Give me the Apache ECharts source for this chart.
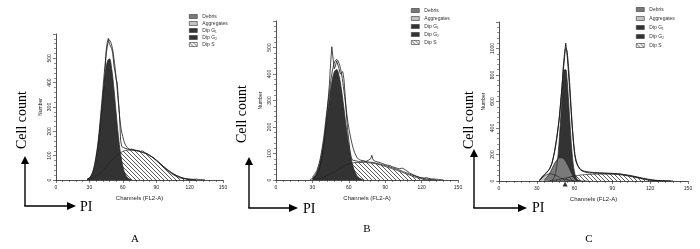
<!DOCTYPE html>
<html><head><meta charset="utf-8">
<script src="https://cdn.jsdelivr.net/npm/echarts@6/dist/echarts.min.js"></script>
<style>html,body{margin:0;padding:0;background:#fff}#c{width:700px;height:249px}</style>
</head><body><div id="c"></div>
<script>
// ---------- data (channel, count) ----------
const xTicks = [0, 30, 60, 90, 120, 150];
const panelLetters = ['A', 'B', 'C'];
const legendNames = ['Debris', 'Aggregates', 'Dip G\u2081', 'Dip G\u2082', 'Dip S'];

// Panel A
const aG1 = [[28,3],[30,7],[32,18],[34,40],[36,80],[38,143],[40,229],[42,328],[44,422],[46,485],[48,498],[50,458],[52,377],[54,278],[56,183],[58,108],[60,57],[62,27],[64,11],[66,4],[68,1]];
const aS = [[30,2],[34,10],[38,22],[42,38],[46,60],[50,80],[54,98],[58,112],[62,121],[66,123],[70,122],[74,119],[78,113],[82,106],[86,96],[90,82],[94,66],[98,50],[102,36],[106,24],[110,15],[114,8],[118,4],[122,1],[126,0]];
const aData = [[28,3],[30,8],[32,20],[34,45],[36,90],[38,150],[40,240],[42,340],[44,440],[45,530],[46,565],[47,582],[48,560],[49,555],[50,540],[51,520],[52,470],[53,445],[54,415],[55,400],[56,330],[57,270],[58,165],[59,138],[60,132],[62,130],[64,128],[66,125],[68,127],[70,124],[72,122],[74,120],[76,118],[78,119],[80,112],[82,108],[84,100],[86,95],[88,88],[90,80],[92,72],[94,64],[96,55],[98,48],[100,40],[102,32],[104,25],[106,20],[108,15],[110,11],[112,8],[114,6],[116,5],[118,4],[120,4],[122,3],[124,3],[126,4],[128,2],[130,2],[132,1],[134,0]];
const aFit = [[28,3],[30,9],[32,22],[34,50],[36,98],[38,165],[40,262],[42,366],[44,470],[46,545],[48,575],[50,555],[52,500],[54,420],[56,320],[58,225],[60,178],[62,148],[64,134],[66,127],[70,122],[74,119],[78,113],[82,106],[86,96],[90,82],[94,66],[98,50],[102,36],[106,24],[110,15],[114,8],[118,4],[122,1],[126,0]];

// Panel B
const bG1 = [[30,8],[32,16],[34,33],[36,62],[38,105],[40,164],[42,235],[44,307],[46,369],[48,408],[50,417],[52,392],[54,340],[56,270],[58,196],[60,130],[62,80],[64,44],[66,22],[68,10],[70,4],[72,1]];
const bS = [[32,2],[36,6],[40,12],[44,20],[48,30],[52,42],[56,53],[60,61],[64,65],[68,66],[72,66],[76,65],[80,63],[84,59],[88,54],[92,48],[96,42],[100,36],[104,29],[108,22],[112,15],[116,9],[120,4],[124,1],[128,0]];
const bData = [[28,2],[30,5],[32,10],[34,22],[36,45],[38,90],[40,160],[42,250],[44,360],[45,440],[46,503],[47,460],[48,420],[49,430],[50,450],[51,445],[52,420],[53,400],[54,395],[55,409],[56,380],[57,320],[58,250],[59,190],[60,150],[61,110],[62,85],[63,75],[64,78],[66,72],[68,70],[70,68],[72,72],[74,70],[76,74],[78,80],[79,93],[80,76],[82,70],[84,68],[86,65],[88,62],[90,58],[92,56],[94,54],[96,50],[98,47],[100,44],[102,42],[104,45],[105,48],[106,40],[108,34],[110,27],[112,22],[114,18],[116,14],[118,10],[120,8],[122,7],[124,9],[126,6],[128,4],[130,4],[132,3],[134,2],[136,1],[138,0]];
const bFit = [[30,11],[34,40],[38,120],[42,262],[44,330],[46,400],[48,440],[50,455],[52,440],[54,400],[56,335],[58,262],[60,197],[62,150],[64,114],[66,92],[68,79],[72,72],[76,68],[80,66],[84,62],[88,57],[92,52],[96,46],[100,40],[104,33],[108,26],[112,19],[116,13],[120,8],[124,4],[128,2],[132,0]];

// Panel C
const cAggr = [[32,5],[34,22],[36,38],[38,48],[40,54],[42,52],[44,46],[46,38],[48,28],[50,18],[54,8],[60,2],[70,0]];
const cDebris = [[36,10],[38,28],[40,55],[42,92],[44,130],[46,160],[48,175],[50,175],[52,160],[54,130],[56,92],[58,50],[60,20],[62,6],[64,1]];
const cG1 = [[42,5],[44,31],[46,122],[48,336],[50,638],[51,767],[52,840],[53,840],[54,767],[55,638],[56,485],[58,212],[60,64],[62,14],[64,2]];
const cS = [[40,2],[44,6],[48,12],[52,20],[56,30],[60,38],[64,44],[68,48],[72,50],[76,52],[80,52],[84,52],[88,51],[92,50],[96,47],[100,42],[104,35],[108,27],[112,19],[116,11],[120,5],[124,2],[128,0]];
const cData = [[32,3],[34,30],[36,50],[38,68],[40,88],[42,130],[44,220],[46,340],[48,480],[50,700],[51,860],[52,960],[53,1040],[54,960],[55,840],[56,700],[57,560],[58,420],[59,300],[60,200],[61,150],[62,125],[63,108],[64,90],[66,75],[68,68],[70,64],[72,60],[74,62],[76,58],[78,60],[80,57],[82,58],[84,56],[86,58],[88,55],[90,56],[92,55],[94,54],[96,52],[98,48],[100,45],[102,42],[104,38],[106,35],[108,30],[110,26],[112,22],[114,18],[116,14],[118,10],[120,7],[122,5],[124,4],[126,3],[128,4],[130,2],[132,2],[134,1],[136,1],[138,0]];
const cFit = [[32,2],[34,22],[36,45],[38,65],[40,90],[42,135],[44,215],[46,330],[48,500],[50,720],[52,930],[53,1000],[54,980],[56,750],[58,440],[60,220],[62,130],[64,96],[66,80],[70,70],[76,64],[84,60],[92,56],[100,48],[108,34],[116,18],[124,6],[132,1],[136,0]];
const cMarker = [[52.5,0]];

// ---------- styling ----------
function hatchCanvas(){
  const c=document.createElement('canvas'); c.width=4; c.height=4;
  const g=c.getContext('2d'); g.strokeStyle='#333'; g.lineWidth=0.8;
  g.beginPath(); g.moveTo(0,0); g.lineTo(4,4); g.moveTo(-1,3); g.lineTo(1,5); g.moveTo(3,-1); g.lineTo(5,1); g.stroke();
  return c;
}
const hatch = {image: hatchCanvas(), repeat: 'repeat'};
const C_G1 = '#333333', C_DEB = '#7a7a7a', C_AGG = '#c4c4c4';

const grids = [
  {left:56, top:34, width:167, height:146},
  {left:276, top:21, width:182, height:159},
  {left:499, top:22, width:189, height:159}
];
const yMax = [600, 600, 1200], yInt = [100, 100, 200];

function xAx(i){return {gridIndex:i,type:'value',min:0,max:150,interval:30,
  axisLine:{lineStyle:{color:'#222',width:0.8}},axisTick:{length:3,lineStyle:{color:'#222',width:0.6}},
  minorTick:{show:true,splitNumber:5,length:2,lineStyle:{color:'#222',width:0.5}},
  splitLine:{show:false},axisLabel:{fontSize:5,color:'#222',margin:5,fontFamily:'Liberation Sans',
    formatter:v=>xTicks.includes(v)?String(v):''},
  name:'Channels (FL2-A)',nameLocation:'middle',nameGap:11,nameTextStyle:{fontSize:6,color:'#222',fontFamily:'Liberation Sans'}};}
function yAx(i){return {gridIndex:i,type:'value',min:0,max:yMax[i],interval:yInt[i],
  axisLine:{show:true,lineStyle:{color:'#222',width:0.8}},axisTick:{show:true,length:3,lineStyle:{color:'#222',width:0.6}},
  minorTick:{show:true,splitNumber:5,length:2,lineStyle:{color:'#222',width:0.5}},
  splitLine:{show:false},axisLabel:{fontSize:5,color:'#222',rotate:90,margin:4,fontFamily:'Liberation Sans',
    formatter:v=>v>=yMax[i]?'':String(v)},
  name:'Number',nameLocation:'middle',nameGap:13,nameRotate:90,nameTextStyle:{fontSize:5,color:'#222',fontFamily:'Liberation Sans'}};}

function area(name,data,i,fill,smooth){return {type:'line',name,data,xAxisIndex:i,yAxisIndex:i,symbol:'none',smooth:smooth,
  lineStyle:{color:'#222',width:0.7},itemStyle:{color:'#333'},areaStyle:{color:fill,opacity:1},silent:true};}
function line(name,data,i,smooth,w){return {type:'line',name,data,xAxisIndex:i,yAxisIndex:i,symbol:'none',smooth:smooth,
  lineStyle:{color:'#1a1a1a',width:w},itemStyle:{color:'#1a1a1a'},silent:true};}

const series = [
  area('Dip G\u2081',aG1,0,C_G1,0.4), area('Dip S',aS,0,hatch,0.4), line('data',aData,0,false,0.8), line('fit',aFit,0,0.4,0.8),
  area('Dip G\u2081',bG1,1,C_G1,0.4), area('Dip S',bS,1,hatch,0.4), line('data',bData,1,false,0.8), line('fit',bFit,1,0.4,0.8),
  area('Aggregates',cAggr,2,C_AGG,0.4), area('Dip G\u2081',cG1,2,C_G1,0.4), area('Debris',cDebris,2,C_DEB,0.4),
  area('Dip S',cS,2,hatch,0.4), line('data',cData,2,false,0.9), line('fit',cFit,2,0.4,0.9),
  {type:'line',name:'Dip G\u2082',data:[],xAxisIndex:2,yAxisIndex:2},
  {type:'scatter',name:'marker',data:cMarker,xAxisIndex:2,yAxisIndex:2,symbol:'triangle',symbolSize:[5,5],symbolOffset:[0,3],clip:false,itemStyle:{color:'#000'},silent:true}
];

const legendColors = [C_DEB, C_AGG, C_G1, C_G1, hatch];
function legend(left,top,gap){return {left,top,orient:'vertical',icon:'rect',itemWidth:8,itemHeight:4,itemGap:gap,selectedMode:false,
  textStyle:{fontSize:5,color:'#333',fontFamily:'Liberation Sans'},padding:0,
  data:legendNames.map((n,k)=>({name:n,itemStyle:{color:legendColors[k],borderColor:'#333',borderWidth:0.6}}))};}

// arrows and labels
function arrow(x0,yTop,yBot,xRight,cellCx,cellCy,cellFont,piX,piY,letter,lx,ly){
  return [
    {type:'line',shape:{x1:x0,y1:yBot,x2:x0,y2:yTop+6},style:{stroke:'#000',lineWidth:1.4}},
    {type:'polygon',shape:{points:[[x0,yTop],[x0-4,yTop+8],[x0+4,yTop+8]]},style:{fill:'#000'}},
    {type:'line',shape:{x1:x0-0.7,y1:yBot,x2:xRight-6,y2:yBot},style:{stroke:'#000',lineWidth:1.4}},
    {type:'polygon',shape:{points:[[xRight,yBot],[xRight-9,yBot-4],[xRight-9,yBot+4]]},style:{fill:'#000'}},
    {type:'text',x:cellCx,y:cellCy,rotation:Math.PI/2,style:{text:'Cell count',font:cellFont+'px "Liberation Serif"',fill:'#000',align:'center',verticalAlign:'middle'}},
    {type:'text',x:piX,y:piY,style:{text:'PI',font:'14px "Liberation Serif"',fill:'#000',align:'left',verticalAlign:'middle'}},
    {type:'text',x:lx,y:ly,style:{text:letter,font:'11px "Liberation Serif"',fill:'#000',align:'center',verticalAlign:'middle'}}
  ];
}
const graphic = [].concat(
  arrow(25,156,206,76,22,120,14,80,207,panelLetters[0],135,239),
  arrow(249,157,208,298,242,114,14,303,209,panelLetters[1],367,229),
  arrow(474,149,208,527,469,120,14,532,208,panelLetters[2],589,239)
);

const chart = echarts.init(document.getElementById('c'),null,{renderer:'canvas'});
chart.setOption({
  animation:false, backgroundColor:'#fff',
  grid:grids, xAxis:[0,1,2].map(xAx), yAxis:[0,1,2].map(yAx),
  legend:[legend(189,14,2),legend(411,8,3),legend(636,7,4)],
  series, graphic
});
</script></body></html>
